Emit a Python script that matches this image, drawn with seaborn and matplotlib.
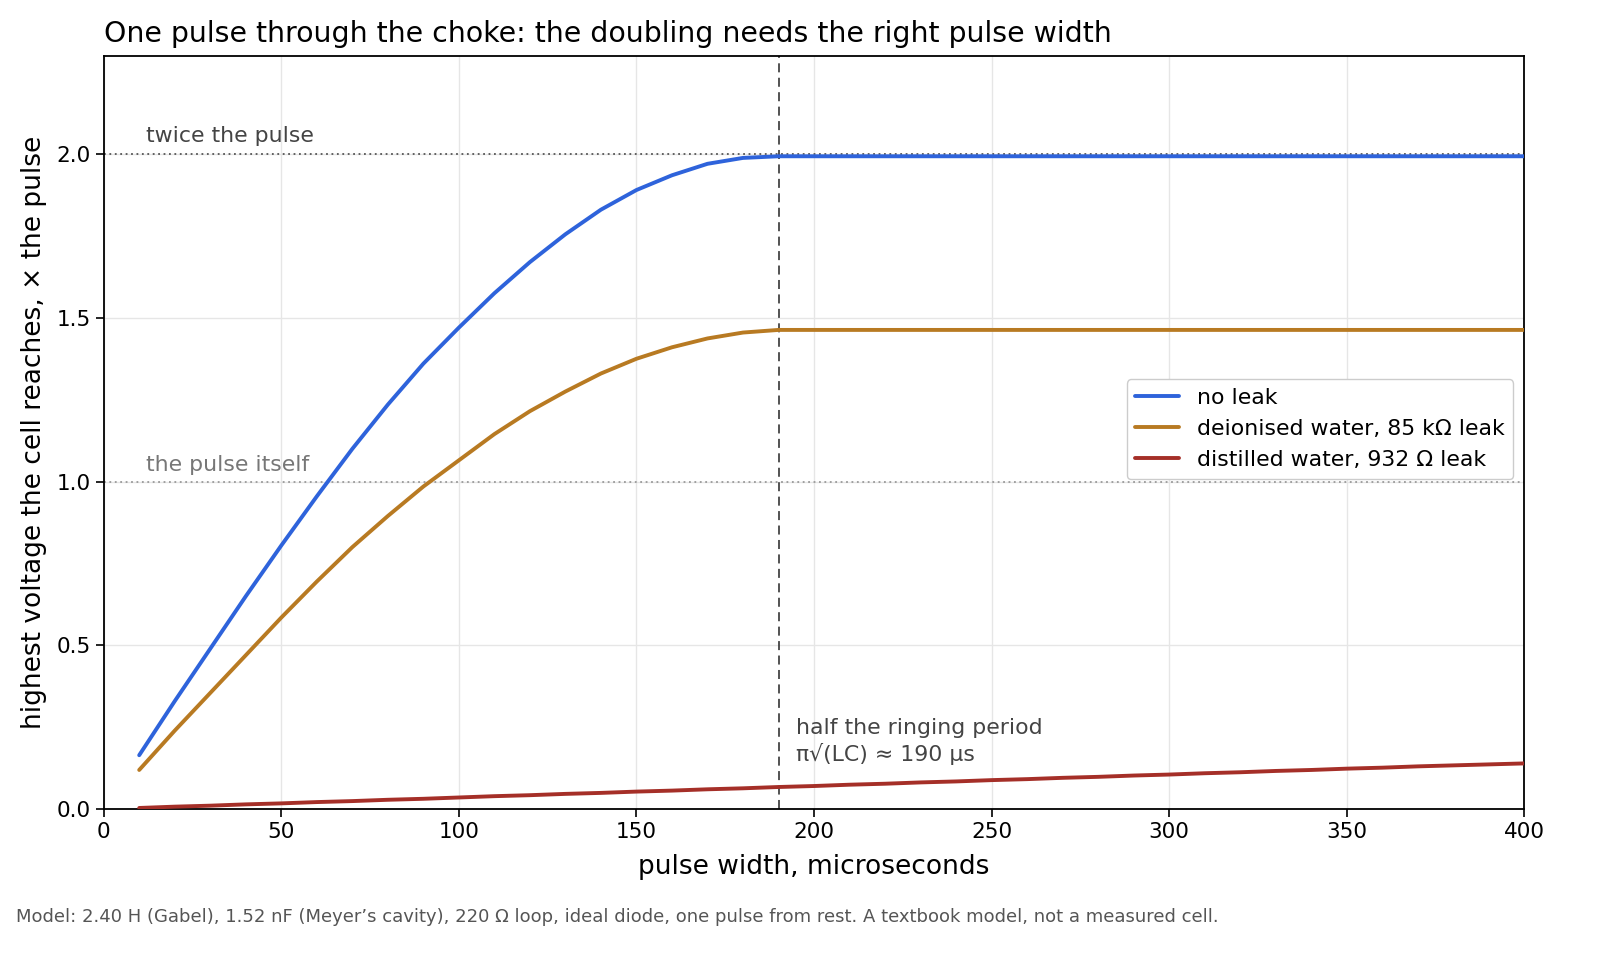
import pandas as pd
import matplotlib.pyplot as plt
import seaborn as sns

# Estilo
sns.set_theme(style="whitegrid")
sns.set_style("whitegrid", {
    "axes.edgecolor": "black",
    "axes.labelcolor": "black",
    "text.color": "black",
    "xtick.color": "black",
    "ytick.color": "black",
    "grid.color": "#e6e6e6",
    "xtick.bottom": True,
    "ytick.left": True,
})
plt.rcParams["font.family"] = ["DejaVu Sans"]

# Dados (largura do pulso em µs, tensão máxima × o pulso)
pulse_width = [10, 20, 30, 40, 50, 60, 70, 80, 90, 100,
               110, 120, 130, 140, 150, 160, 170, 180, 190, 200,
               210, 220, 230, 240, 250, 260, 270, 280, 290, 300,
               310, 320, 330, 340, 350, 360, 370, 380, 390, 400]

no_leak = [0.165, 0.33, 0.49, 0.65, 0.805, 0.955, 1.10, 1.235, 1.36, 1.47,
           1.575, 1.67, 1.755, 1.83, 1.89, 1.935, 1.97, 1.988, 1.993, 1.993,
           1.993, 1.993, 1.993, 1.993, 1.993, 1.993, 1.993, 1.993, 1.993, 1.993,
           1.993, 1.993, 1.993, 1.993, 1.993, 1.993, 1.993, 1.993, 1.993, 1.993]

deionised = [0.12, 0.24, 0.355, 0.47, 0.585, 0.695, 0.80, 0.895, 0.985, 1.065,
             1.145, 1.215, 1.275, 1.33, 1.375, 1.41, 1.437, 1.455, 1.463, 1.463,
             1.463, 1.463, 1.463, 1.463, 1.463, 1.463, 1.463, 1.463, 1.463, 1.463,
             1.463, 1.463, 1.463, 1.463, 1.463, 1.463, 1.463, 1.463, 1.463, 1.463]

distilled = [0.004, 0.008, 0.011, 0.015, 0.018, 0.022, 0.025, 0.029, 0.032, 0.036,
             0.040, 0.043, 0.047, 0.050, 0.054, 0.057, 0.061, 0.064, 0.068, 0.071,
             0.075, 0.078, 0.082, 0.085, 0.089, 0.092, 0.096, 0.099, 0.103, 0.106,
             0.110, 0.113, 0.117, 0.120, 0.124, 0.127, 0.131, 0.134, 0.137, 0.140]

series_names = ["no leak", "deionised water, 85 kΩ leak", "distilled water, 932 Ω leak"]
series_colors = ["#2e63db", "#b87a22", "#a52f28"]

df = pd.concat([
    pd.DataFrame({"width": pulse_width, "peak": vals, "case": name})
    for name, vals in zip(series_names, [no_leak, deionised, distilled])
])

fig = plt.figure(figsize=(16.2, 9.6), dpi=100)
ax = fig.add_axes([0.064, 0.157, 0.877, 0.785])

# linhas de referência
ax.axhline(2.0, color="#555555", lw=1.3, ls=(0, (1, 2)), zorder=1)
ax.axhline(1.0, color="#999999", lw=1.3, ls=(0, (1, 2)), zorder=1)
ax.axvline(190, color="#444444", lw=1.3, ls=(0, (5, 3)), zorder=1)

sns.lineplot(data=df, x="width", y="peak", hue="case", hue_order=series_names,
             palette=series_colors, linewidth=2.8, ax=ax, zorder=3)

ax.text(12, 2.025, "twice the pulse", fontsize=15.8, color="#444444", va="bottom")
ax.text(12, 1.02, "the pulse itself", fontsize=15.8, color="#777777", va="bottom")
ax.text(195, 0.135, "half the ringing period\nπ√(LC) ≈ 190 µs", fontsize=15.8,
        color="#444444", va="bottom", linespacing=1.3)

ax.set_xlim(0, 400)
ax.set_ylim(0, 2.3)
ax.set_yticks([0.0, 0.5, 1.0, 1.5, 2.0])
ax.set_title("One pulse through the choke: the doubling needs the right pulse width",
             loc="left", fontsize=20.4, pad=10)
ax.set_xlabel("pulse width, microseconds", fontsize=19, labelpad=8)
ax.set_ylabel("highest voltage the cell reaches, × the pulse", fontsize=19, labelpad=7)
ax.tick_params(labelsize=15.5, length=6, width=1.2, color="black")
for s in ax.spines.values():
    s.set_linewidth(1.3)

leg = ax.legend(loc="upper right", bbox_to_anchor=(1.0, 0.585), fontsize=15.8,
                frameon=True, framealpha=1)
leg.get_frame().set_edgecolor("#cccccc")

fig.text(0.01, 0.045, "Model: 2.40 H (Gabel), 1.52 nF (Meyer’s cavity), 220 Ω loop, ideal diode, "
         "one pulse from rest. A textbook model, not a measured cell.",
         fontsize=13, color="#555555", va="center")

fig.savefig("out.png", dpi=100)
